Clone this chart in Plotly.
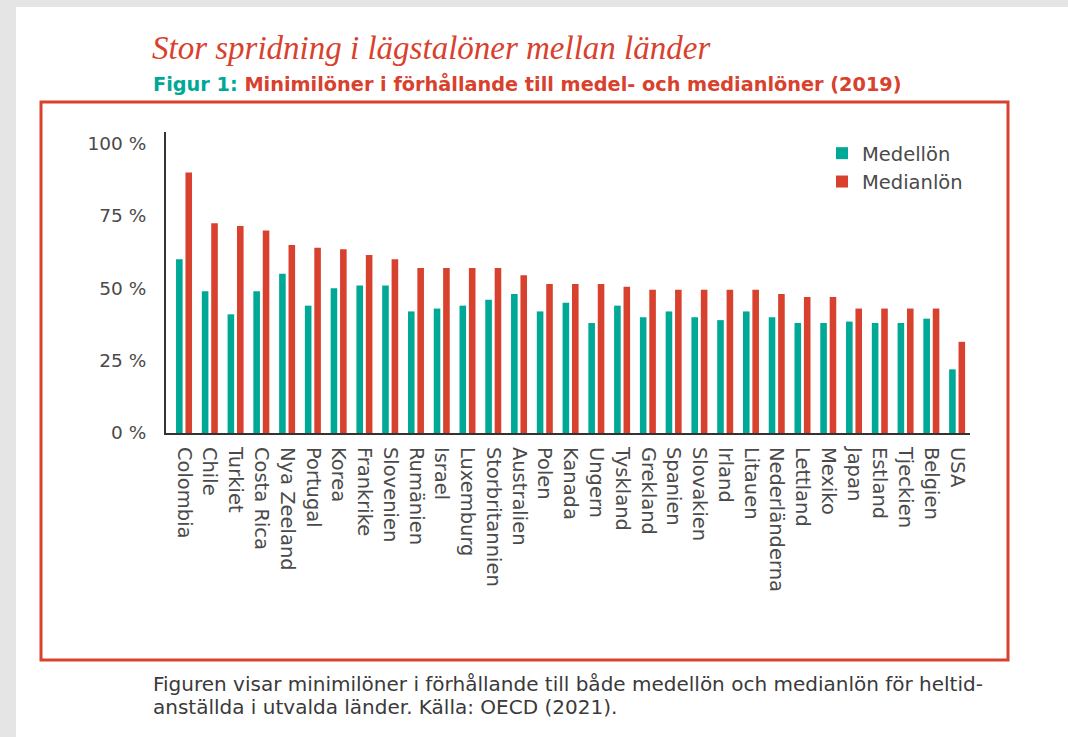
import plotly.graph_objects as go

countries = ["Colombia", "Chile", "Turkiet", "Costa Rica", "Nya Zeeland", "Portugal", "Korea",
             "Frankrike", "Slovenien", "Rumänien", "Israel", "Luxemburg", "Storbritannien",
             "Australien", "Polen", "Kanada", "Ungern", "Tyskland", "Grekland", "Spanien",
             "Slovakien", "Irland", "Litauen", "Nederländerna", "Lettland", "Mexiko", "Japan",
             "Estland", "Tjeckien", "Belgien", "USA"]
medellon = [60, 49, 41, 49, 55, 44, 50, 51, 51, 42, 43, 44, 46,
            48, 42, 45, 38, 44, 40, 42, 40, 39, 42, 40, 38, 38, 38.5,
            38, 38, 39.5, 22]
medianlon = [90, 72.5, 71.5, 70, 65, 64, 63.5, 61.5, 60, 57, 57, 57, 57,
             54.5, 51.5, 51.5, 51.5, 50.5, 49.5, 49.5, 49.5, 49.5, 49.5, 48, 47, 47, 43,
             43, 43, 43, 31.5]
yticks = [0, 25, 50, 75, 100]
yticklabels = ["0 %", "25 %", "50 %", "75 %", "100 %"]

TEAL = "#00a896"
RED = "#d8412d"
W, H = 1068, 737
L, R, T, B = 166, 970, 132, 433


def px(x):
    return (x - L) / (R - L)


def py(y):
    return 1 - (y - T) / (B - T)


fig = go.Figure()
fig.add_trace(go.Bar(name="Medellön", x=countries, y=medellon, marker_color=TEAL,
                     marker_line_width=0))
fig.add_trace(go.Bar(name="Medianlön", x=countries, y=medianlon, marker_color=RED,
                     marker_line_width=0))

fig.update_layout(
    width=W, height=H,
    margin=dict(l=L, r=W - R, t=T, b=H - B, autoexpand=False),
    paper_bgcolor="#e5e5e5",
    plot_bgcolor="rgba(0,0,0,0)",
    barmode="group", bargap=0.27, bargroupgap=0.3,
    showlegend=True,
    legend=dict(x=px(822), y=py(134), xanchor="left", yanchor="top",
                bgcolor="rgba(0,0,0,0)", font=dict(family="DejaVu Sans", size=19.5, color="#4a4a4a"),
                tracegroupgap=0),
    xaxis=dict(type="category", range=[-0.70, 30.5], showline=True, linecolor="#333333",
               linewidth=2, tickangle=90,
               tickfont=dict(family="DejaVu Sans", size=19.5, color="#4a4a4a"),
               ticks="", showgrid=False, ticklabelstandoff=8, fixedrange=True),
    yaxis=dict(range=[0, 104], showline=True, linecolor="#333333", linewidth=2,
               tickvals=yticks, ticktext=yticklabels,
               tickfont=dict(family="DejaVu Sans", size=18.5, color="#4a4a4a"), ticks="",
               showgrid=False, zeroline=False, ticklabelstandoff=14, fixedrange=True),
    shapes=[
        dict(type="rect", xref="paper", yref="paper", x0=px(16), x1=px(W + 10), y0=py(7), y1=py(H + 10),
             fillcolor="white", line=dict(width=0), layer="below"),
        dict(type="rect", xref="paper", yref="paper", x0=px(41), x1=px(1008), y0=py(102), y1=py(660),
             fillcolor="rgba(0,0,0,0)", line=dict(color=RED, width=3), layer="below"),
    ],
    annotations=[
        dict(text="Stor spridning i lägstalöner mellan länder", xref="paper", yref="paper",
             x=px(150), y=py(48), xanchor="left", yanchor="middle", showarrow=False,
             font=dict(family="Liberation Serif", size=33, color=RED, style="italic")),
        dict(text="<b><span style='color:#00a896'>Figur 1:</span> Minimilöner i förhållande till medel- och medianlöner (2019)</b>",
             xref="paper", yref="paper", x=px(151), y=py(84), xanchor="left", yanchor="middle",
             showarrow=False, font=dict(family="DejaVu Sans", size=19.3, color=RED)),
        dict(text="Figuren visar minimilöner i förhållande till både medellön och medianlön för heltid-",
             xref="paper", yref="paper", x=px(151), y=py(684), xanchor="left", yanchor="middle",
             align="left", showarrow=False,
             font=dict(family="DejaVu Sans", size=20, color="#3a3a3a")),
        dict(text="anställda i utvalda länder. Källa: OECD (2021).",
             xref="paper", yref="paper", x=px(151), y=py(707), xanchor="left", yanchor="middle",
             align="left", showarrow=False,
             font=dict(family="DejaVu Sans", size=20, color="#3a3a3a")),
    ],
)

fig.write_html("out.html", config={"displayModeBar": False},
               post_script="document.body.style.margin='0';document.body.style.padding='0';document.body.style.overflow='hidden';")
